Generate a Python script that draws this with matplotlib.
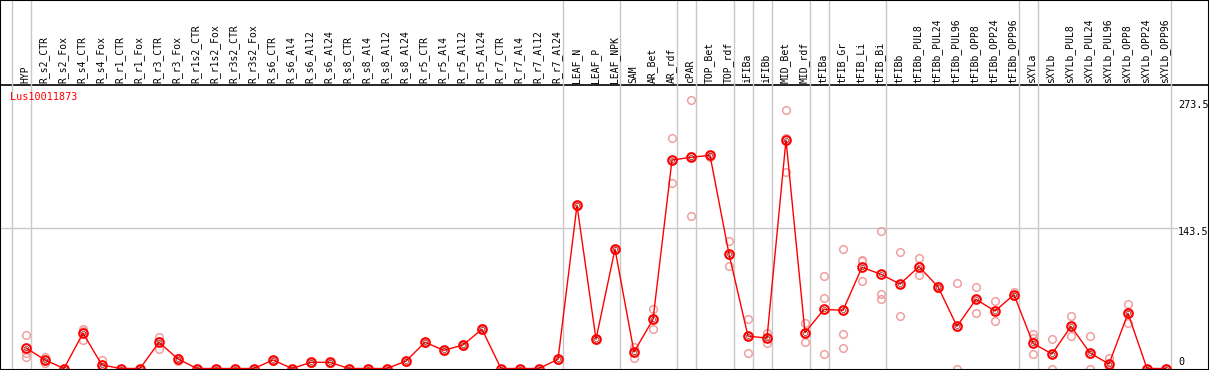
import matplotlib
matplotlib.use("Agg")
import matplotlib.pyplot as plt

samples = ["HYP", "R_s2_CTR", "R_s2_Fox", "R_s4_CTR", "R_s4_Fox", "R_r1_CTR", "R_r1_Fox",
           "R_r3_CTR", "R_r3_Fox", "R_r1s2_CTR", "R_r1s2_Fox", "R_r3s2_CTR", "R_r3s2_Fox",
           "R_s6_CTR", "R_s6_Al4", "R_s6_Al12", "R_s6_Al24", "R_s8_CTR", "R_s8_Al4",
           "R_s8_Al12", "R_s8_Al24", "R_r5_CTR", "R_r5_Al4", "R_r5_Al12", "R_r5_Al24",
           "R_r7_CTR", "R_r7_Al4", "R_r7_Al12", "R_r7_Al24", "LEAF_N", "LEAF_P", "LEAF_NPK",
           "SAM", "AR_Bet", "AR_rdf", "cPAR", "TOP_Bet", "TOP_rdf", "iFIBa", "iFIBb",
           "MID_Bet", "MID_rdf", "tFIBa", "tFIB_Gr", "tFIB_Li", "tFIB_Bi", "tFIBb",
           "tFIBb_PUL8", "tFIBb_PUL24", "tFIBb_PUL96", "tFIBb_OPP8", "tFIBb_OPP24",
           "tFIBb_OPP96", "sXYLa", "sXYLb", "sXYLb_PUL8", "sXYLb_PUL24", "sXYLb_PUL96",
           "sXYLb_OPP8", "sXYLb_OPP24", "sXYLb_OPP96"]

means = [21, 8.7, 0, 36, 3.5, 0, 0, 26.7, 9.7, 0, 0, 0, 0,
         8.7, 0, 6.3, 6.3, 0, 0, 0, 7.6, 26.7, 18.5, 24, 40,
         0, 0, 0, 9.4, 166.4, 29.8, 121.8,
         16.8, 50, 212.5, 215.3, 217.3, 116.7, 33, 31,
         233, 36.5, 60.3, 59.3, 103.2, 96, 86.1,
         103.8, 83.4, 43, 70.5, 58.6,
         75.2, 25.7, 14.8, 43, 15.8, 4.6,
         56.2, 0, 0]

replicates = [[34, 16, 12], [12, 5.3, 8.7], [0, 0, 0], [40.6, 29, 38], [8.3, 0, 2], [0, 0, 0], [0, 0, 0],
              [32.4, 20, 28], [11, 8, 10], [0, 0, 0], [0, 0, 0], [0, 0, 0], [0, 0, 0],
              [9, 8, 9], [0, 0, 0], [6, 7, 6], [6, 7, 6], [0, 0, 0], [0, 0, 0],
              [0, 0, 0], [8, 7, 8], [27, 26, 27], [18, 19, 18], [24, 23, 25], [40, 41, 39],
              [0, 0, 0], [0, 0, 0], [0, 0, 0], [9, 10, 9], [166, 167, 166], [30, 29, 30], [122, 121, 122],
              [22, 10.4, 17], [60.6, 40.6, 50], [234.7, 188.8, 213], [273.5, 155.5, 217], [218, 216, 218],
              [129.7, 104.5, 116], [50, 15.8, 33], [35.8, 26.3, 31],
              [264, 200, 235], [46.4, 27, 36], [94.3, 71.9, 14.8], [121.5, 34.9, 20.6],
              [110.3, 109.3, 88.9], [139.9, 76, 71.2], [118.4, 53.2, 86],
              [112.3, 95, 104], [84, 82, 84], [86.8, 0, 42], [83.4, 56.2, 71], [68.5, 48.4, 59],
              [78, 74, 74], [34.9, 30.8, 14.8], [29.8, 0, 14.8], [53.2, 32.8, 43],
              [32.8, 0, 15], [11, 0, 3], [65.4, 46.7, 56], [0, 0, 0], [0, 0, 0]]

# group boundaries: a line just right of these columns
separators = [-1, 0, 28, 31, 34, 35, 37, 38, 39, 41, 42, 45, 52, 53, 60]
gene = "Lus10011873"

# pixel geometry: column i at 26 + 19*i px, value 0 at row 368.5, 0.981 px per unit
W, H = 1209, 370
px_col, x0 = 19.0, 26.0
px_val, y0 = 0.981, 368.5

fig = plt.figure(figsize=(W / 100, H / 100), dpi=100)
ax = fig.add_axes([0, 0, 1, 1])
ax.set_xlim(-x0 / px_col, (W - x0) / px_col)
ax.set_ylim((y0 - H) / px_val, y0 / px_val)
ax.set_xticks([])
ax.set_yticks([])
for s in ax.spines.values():
    s.set_color("black")
    s.set_linewidth(1.5)
    s.set_zorder(10)

top_val = (y0 - 85) / px_val
ax.axhline(top_val, color="black", lw=1.2)
ax.axhline(143.5, color="#c8c8c8", lw=1)
for sp in separators:
    ax.axvline(sp + 0.247, color="#c8c8c8", lw=1)

mono = "DejaVu Sans Mono"
for i, name in enumerate(samples):
    ax.text(i - 0.05, (y0 - 83) / px_val, name, rotation=90, ha="center", va="bottom",
            fontsize=7, family=mono)

ax.text(-0.84, (y0 - 97) / px_val, gene, color="red", fontsize=7.3, family=mono,
        ha="left", va="center")

xs = list(range(len(samples)))
for i, vals in enumerate(replicates):
    ax.plot([i] * len(vals), vals, "o", ms=5.5, mfc="none", mec="#f0a0a0", mew=1.1, zorder=3)
ax.plot(xs, means, color="red", lw=1, zorder=4)
ax.plot(xs, means, "o", ms=6.2, mfc="none", mec="red", mew=1.5, zorder=5)
ax.plot(xs, means, "o", ms=3, mfc="none", mec="#700000", mew=0.4, zorder=6)

rx = (1178 - x0) / px_col
for lab, yv in [("273.5", 268.6), ("143.5", 139.1), ("0", 6.6)]:
    ax.text(rx, yv, lab, fontsize=7.3, family=mono, ha="left", va="center",
            bbox=dict(facecolor="white", edgecolor="none", pad=0.3), zorder=7)

fig.savefig("out.png", dpi=100)
